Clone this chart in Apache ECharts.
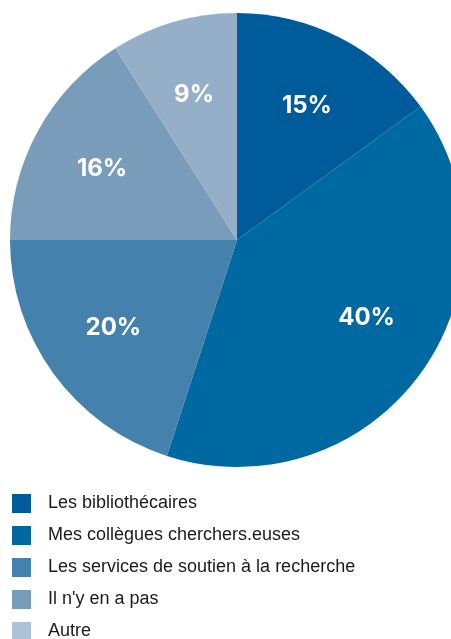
<!DOCTYPE html>
<html><head><meta charset="utf-8">
<script src="https://cdn.jsdelivr.net/npm/echarts@6/dist/echarts.min.js"></script>
<style>html,body{margin:0;padding:0;background:#fff}#c{width:451px;height:639px}</style>
</head><body><div id="c"></div>
<script>
const categories = ["Les bibliothécaires","Mes collègues cherchers.euses","Les services de soutien à la recherche","Il n'y en a pas","Autre"];
const values = [15, 40, 20, 16, 9];
const sliceColors = ["#005b9a","#0069a2","#4581ad","#799cbb","#96afc8"];
const legendColors = ["#005b9a","#0069a2","#4581ad","#799cbb","#adc2d6"];

const labelOffsets = {1:[5,-13], 2:[1,-3]};
const chart = echarts.init(document.getElementById('c'), null, {renderer:'canvas'});
const mainData = categories.map((n,i)=>({name:n, value:values[i], itemStyle:{color:sliceColors[i]}}));
const labelData = categories.map((n,i)=>{
  const d = {name:n, value:values[i]};
  if (labelOffsets[i]) d.label = {offset:labelOffsets[i]};
  return d;
});
chart.setOption({
  animation:false,
  legend:{
    orient:'vertical', left:12, top:494, height:200, padding:0,
    icon:'rect', itemWidth:19, itemHeight:19, itemGap:13,
    selectedMode:false,
    textStyle:{fontFamily:'Liberation Sans', fontSize:18, color:'#1a1a1a', padding:[0,0,0,12]},
    data: categories.map((n,i)=>({name:n, itemStyle:{color:legendColors[i]}}))
  },
  series:[
    {
      type:'pie', center:[237,240], radius:[0,227], startAngle:90, clockwise:true,
      silent:true, label:{show:false}, labelLine:{show:false},
      itemStyle:{borderWidth:0},
      data: mainData
    },
    {
      type:'pie', center:[237,240], radius:[75,227], startAngle:90, clockwise:true,
      silent:true, legendHoverLink:false,
      itemStyle:{color:'rgba(0,0,0,0)', borderWidth:0},
      label:{show:true, position:'inside', formatter:'{c}%', color:'#fff', offset:[0,3],
        fontFamily:'Inter', fontWeight:'bold', fontSize:24},
      labelLine:{show:false},
      data: labelData
    }
  ]
});
</script></body></html>
